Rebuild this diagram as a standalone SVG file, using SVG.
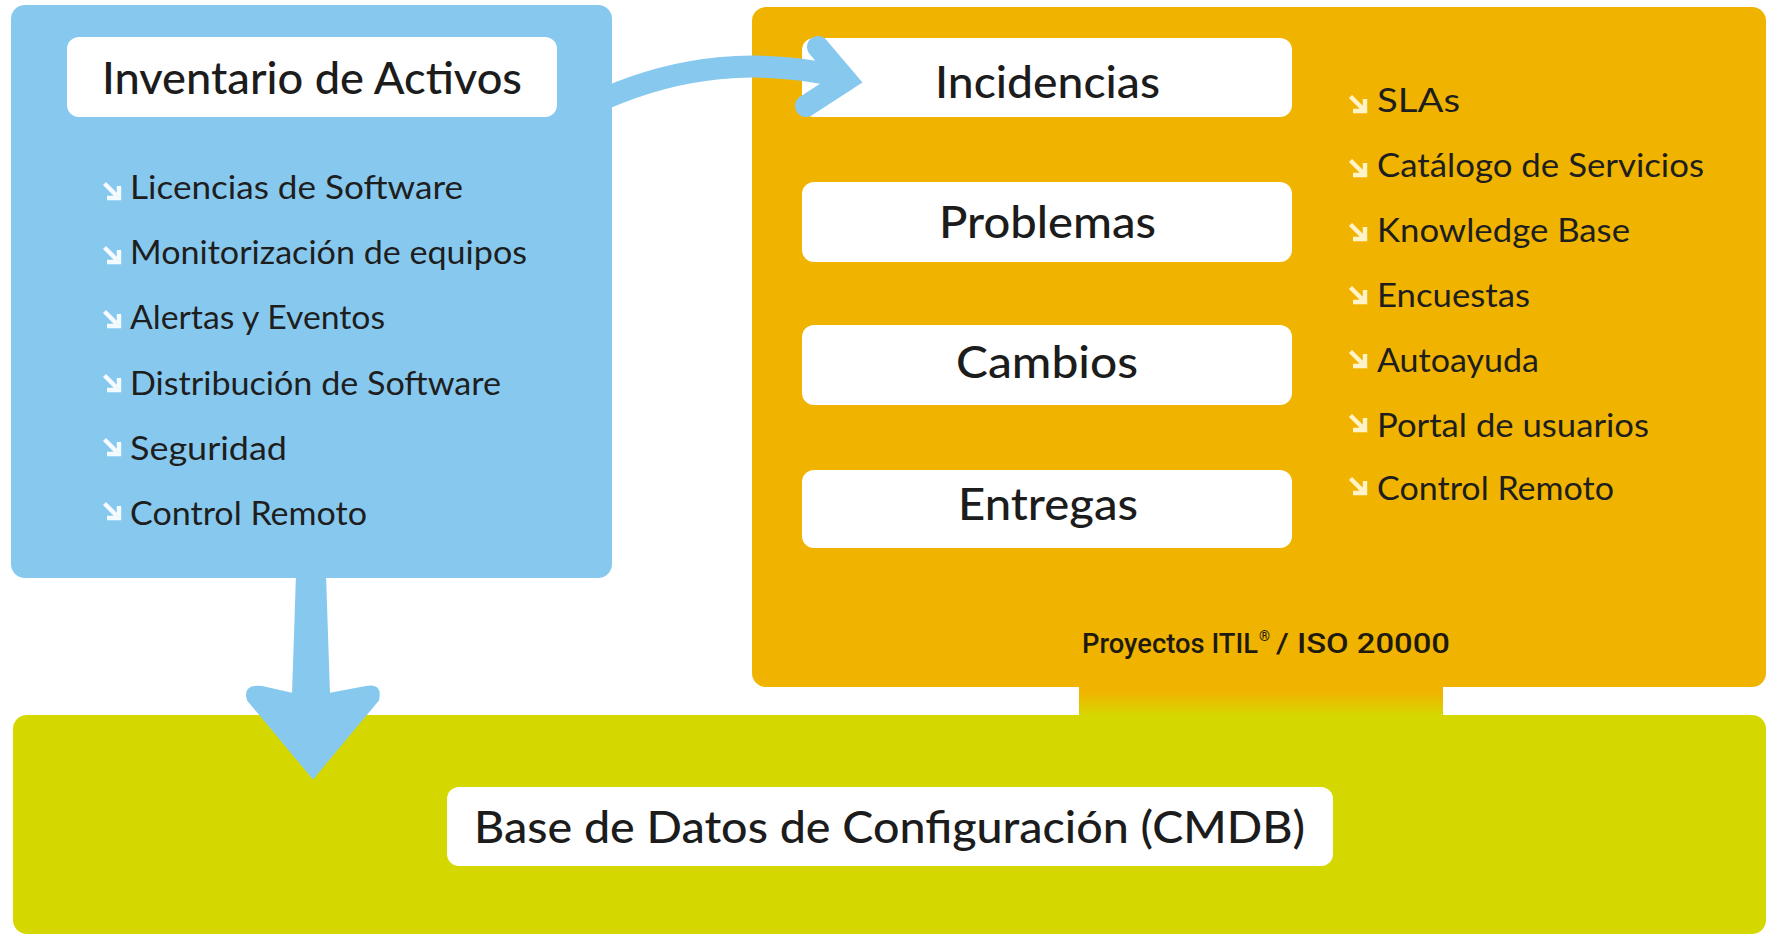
<svg xmlns="http://www.w3.org/2000/svg" xmlns:xlink="http://www.w3.org/1999/xlink" width="1776" height="935" viewBox="0 0 1776 935">
<style>
.bg{fill:#ffffff}
.blue{fill:#87C9EE}
.orange{fill:#F0B400}
.green{fill:#D5D800}
.wbox{fill:#ffffff}
.big{font-family:Lato,"Liberation Sans",sans-serif;font-size:44px;fill:#1c1c1c;font-weight:500}
.item{font-family:Lato,"Liberation Sans",sans-serif;font-size:33px;fill:#1e1e1e}
.small{font-family:Roboto,"Liberation Sans",sans-serif;font-size:27px;fill:#1e1a10;font-weight:500}
.icb{stroke:#F4FAFE;fill:none}
.ico{stroke:#FFF3CC;fill:none}
.conn{stroke:#87C9EE;fill:none;stroke-width:22}
</style>
<defs>
<path id="ic" d="M2.5 2.5 L14.5 14.5 M17 5 L17 17 L5 17" stroke-width="4.4" stroke-linecap="butt" stroke-linejoin="miter"/>
<linearGradient id="tabg" x1="0" y1="0" x2="0" y2="1">
<stop offset="0" stop-color="#F0B400"/>
<stop offset="0.25" stop-color="#F0B400"/>
<stop offset="1" stop-color="#D5D800"/>
</linearGradient>
</defs>
<rect class="bg" x="0" y="0" width="1776" height="935"/>

<g id="cmdb">
<rect class="green" x="13" y="715" width="1753" height="219" rx="14"/>
<rect class="wbox" x="447" y="787" width="886" height="79" rx="12"/>
<text class="big" x="474" y="843" textLength="831" lengthAdjust="spacingAndGlyphs">Base de Datos de Configuración (CMDB)</text>
</g>

<g id="itil">
<rect class="orange" x="752" y="7" width="1014" height="680" rx="14"/>
<rect x="1079" y="684" width="364" height="32" fill="url(#tabg)"/>
<text class="small" x="1082" y="653" textLength="176" lengthAdjust="spacingAndGlyphs">Proyectos ITIL</text>
<text class="small" x="1259" y="641" style="font-size:14px">®</text>
<text class="small" x="1276" y="653" textLength="174" lengthAdjust="spacingAndGlyphs"> / ISO 20000</text>
<use href="#ic" class="ico" x="1348" y="94"/>
<text class="item" x="1377" y="112" textLength="83" lengthAdjust="spacingAndGlyphs">SLAs</text>
<use href="#ic" class="ico" x="1348" y="158"/>
<text class="item" x="1377" y="177" textLength="327" lengthAdjust="spacingAndGlyphs">Catálogo de Servicios</text>
<use href="#ic" class="ico" x="1348" y="222"/>
<text class="item" x="1377" y="242" textLength="253" lengthAdjust="spacingAndGlyphs">Knowledge Base</text>
<use href="#ic" class="ico" x="1348" y="285"/>
<text class="item" x="1377" y="307" textLength="153" lengthAdjust="spacingAndGlyphs">Encuestas</text>
<use href="#ic" class="ico" x="1348" y="349"/>
<text class="item" x="1377" y="372" textLength="162" lengthAdjust="spacingAndGlyphs">Autoayuda</text>
<use href="#ic" class="ico" x="1348" y="413"/>
<text class="item" x="1377" y="437" textLength="272" lengthAdjust="spacingAndGlyphs">Portal de usuarios</text>
<use href="#ic" class="ico" x="1348" y="476"/>
<text class="item" x="1377" y="500" textLength="237" lengthAdjust="spacingAndGlyphs">Control Remoto</text>
</g>

<g id="incidencias">
<rect class="wbox" x="802" y="38" width="490" height="79" rx="12"/>
<text class="big" x="935" y="98" textLength="225" lengthAdjust="spacingAndGlyphs">Incidencias</text>
</g>
<g id="problemas">
<rect class="wbox" x="802" y="182" width="490" height="80" rx="12"/>
<text class="big" x="939" y="238" textLength="217" lengthAdjust="spacingAndGlyphs">Problemas</text>
</g>
<g id="cambios">
<rect class="wbox" x="802" y="325" width="490" height="80" rx="12"/>
<text class="big" x="956" y="378" textLength="182" lengthAdjust="spacingAndGlyphs">Cambios</text>
</g>
<g id="entregas">
<rect class="wbox" x="802" y="470" width="490" height="78" rx="12"/>
<text class="big" x="958" y="520" textLength="180" lengthAdjust="spacingAndGlyphs">Entregas</text>
</g>

<g id="inventario">
<rect class="blue" x="11" y="5" width="601" height="573" rx="14"/>
<rect class="wbox" x="67" y="37" width="490" height="80" rx="12"/>
<text class="big" x="102" y="94" textLength="420" lengthAdjust="spacingAndGlyphs">Inventario de Activos</text>
<use href="#ic" class="icb" x="102" y="181"/>
<text class="item" x="130" y="199" textLength="333" lengthAdjust="spacingAndGlyphs">Licencias de Software</text>
<use href="#ic" class="icb" x="102" y="245"/>
<text class="item" x="130" y="264" textLength="397" lengthAdjust="spacingAndGlyphs">Monitorización de equipos</text>
<use href="#ic" class="icb" x="102" y="309"/>
<text class="item" x="130" y="329" textLength="255" lengthAdjust="spacingAndGlyphs">Alertas y Eventos</text>
<use href="#ic" class="icb" x="102" y="373"/>
<text class="item" x="130" y="395" textLength="371" lengthAdjust="spacingAndGlyphs">Distribución de Software</text>
<use href="#ic" class="icb" x="102" y="437"/>
<text class="item" x="130" y="460" textLength="157" lengthAdjust="spacingAndGlyphs">Seguridad</text>
<use href="#ic" class="icb" x="102" y="501"/>
<text class="item" x="130" y="525" textLength="237" lengthAdjust="spacingAndGlyphs">Control Remoto</text>
</g>

<g id="connectors">
<path class="conn" d="M606 98 C 680 66, 755 58, 838 76"/>
<path class="conn" d="M818 47 L846 80 L806 106" stroke-linecap="round" stroke-linejoin="miter"/>
<path fill="#87C9EE" d="M297 574 L325 574 L329 694 L366 687 Q382 684 378 700 L313 778 L248 700 Q243 685 262 687 L293 694 Z" stroke="#87C9EE" stroke-width="2" stroke-linejoin="round"/>
</g>
</svg>
